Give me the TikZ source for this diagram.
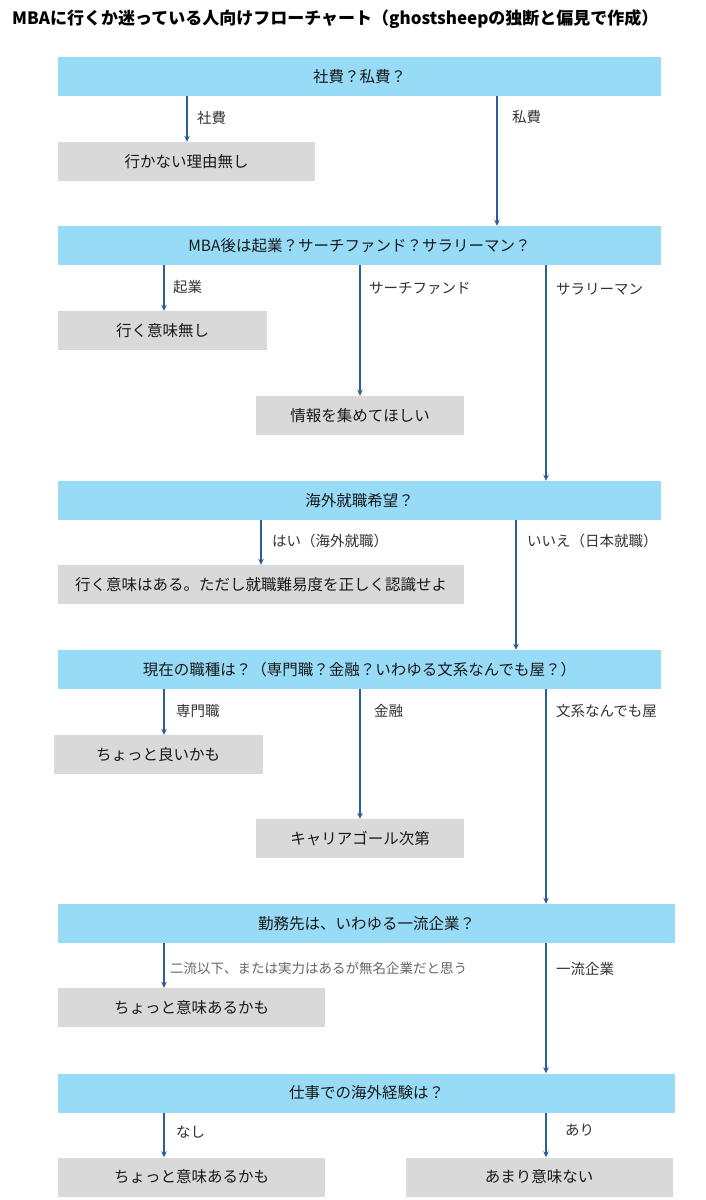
\documentclass[tikz,border=0pt]{standalone}
\usepackage{fontspec}
\setmainfont{Noto Sans CJK JP}
\usetikzlibrary{arrows.meta,positioning}
\definecolor{qblue}{HTML}{97DBF6}
\definecolor{rgray}{HTML}{D9D9D9}
\definecolor{flowblue}{HTML}{2E5C99}

\begin{document}
\begin{tikzpicture}[x=1pt, y=-1pt,
    qbox/.style={fill=qblue, minimum width=603pt, minimum height=39pt, inner sep=0pt, font=\fontsize{15.5}{18}\selectfont, text=black!90},
    rbox/.style={fill=rgray, minimum height=39pt, inner sep=0pt, font=\fontsize{15.5}{18}\selectfont, text=black!90},
    arrow/.style={-{Stealth[length=6pt,width=5.5pt]}, line width=1.3pt, draw=flowblue},
    lbl/.style={anchor=west, inner sep=0pt, font=\fontsize{14.5}{17}\selectfont, text=black!80}
]
    \fill[white] (0,0) rectangle (706,1200);
    \useasboundingbox (0,0) rectangle (706,1200);

    % Title
    \node[anchor=west, inner sep=0pt, font=\fontsize{17}{20}\selectfont\bfseries] (title) at (12,19) {MBAに行くか迷っている人向けフローチャート（ghostsheepの独断と偏見で作成）};

    % Branch lines
    \coordinate (c1) at (187,0);
    \coordinate (c2) at (497,0);
    \coordinate (c3) at (164,0);
    \coordinate (c4) at (360,0);
    \coordinate (c5) at (546,0);
    \coordinate (c6) at (261,0);
    \coordinate (c7) at (516,0);

    % Question 1
    \node[qbox] (q1) at (359.5,76.5) {社費？私費？};
    \node[rbox, minimum width=257pt] (a1) at (186.5,161.5) {行かない理由無し};
    \draw[arrow] (q1.south -| c1) -- (a1.north -| c1);
    \node[lbl] (l1) at (197,118) {社費};
    \node[lbl] (l2) at (512,117) {私費};

    % Question 2
    \node[qbox] (q2) at (359.5,245.5) {MBA後は起業？サーチファンド？サラリーマン？};
    \draw[arrow] (q1.south -| c2) -- (q2.north -| c2);
    \node[rbox, minimum width=209pt] (a2) at (162.5,330.5) {行く意味無し};
    \node[rbox, minimum width=208pt] (a3) at (360,415.5) {情報を集めてほしい};
    \draw[arrow] (q2.south -| c3) -- (a2.north -| c3);
    \draw[arrow] (q2.south -| c4) -- (a3.north -| c4);
    \node[lbl] (l3) at (173,287) {起業};
    \node[lbl] (l4) at (369,288) {サーチファンド};
    \node[lbl] (l5) at (556,289) {サラリーマン};

    % Question 3
    \node[qbox] (q3) at (359.5,500.5) {海外就職希望？};
    \draw[arrow] (q2.south -| c5) -- (q3.north -| c5);
    \node[rbox, minimum width=406pt] (a4) at (261,584.5) {行く意味はある。ただし就職難易度を正しく認識せよ};
    \draw[arrow] (q3.south -| c6) -- (a4.north -| c6);
    \node[lbl] (l6) at (272,541) {はい（海外就職）};
    \node[lbl] (l7) at (527,541) {いいえ（日本就職）};

    % Question 4
    \node[qbox] (q4) at (359.5,669.5) {現在の職種は？（専門職？金融？いわゆる文系なんでも屋？）};
    \draw[arrow] (q3.south -| c7) -- (q4.north -| c7);
    \node[rbox, minimum width=209pt] (a5) at (158,754.5) {ちょっと良いかも};
    \node[rbox, minimum width=208pt] (a6) at (360,838.5) {キャリアゴール次第};
    \draw[arrow] (q4.south -| c3) -- (a5.north -| c3);
    \draw[arrow] (q4.south -| c4) -- (a6.north -| c4);
    \node[lbl] (l8) at (176,711) {専門職};
    \node[lbl] (l9) at (374,711) {金融};
    \node[lbl] (l10) at (556,711) {文系なんでも屋};

    % Question 5
    \node[qbox, minimum width=617pt] (q5) at (366.5,923.5) {勤務先は、いわゆる一流企業？};
    \draw[arrow] (q4.south -| c5) -- (q5.north -| c5);
    \node[rbox, minimum width=267pt] (a7) at (191.5,1007.5) {ちょっと意味あるかも};
    \draw[arrow] (q5.south -| c3) -- (a7.north -| c3);
    \node[lbl, font=\fontsize{13.5}{16}\selectfont, text=black!60] (l11) at (170,968) {二流以下、または実力はあるが無名企業だと思う};
    \node[lbl] (l12) at (556,969) {一流企業};

    % Question 6
    \node[qbox, minimum width=617pt] (q6) at (366.5,1093) {仕事での海外経験は？};
    \draw[arrow] (q5.south -| c5) -- (q6.north -| c5);
    \node[rbox, minimum width=267pt] (a8) at (191.5,1177) {ちょっと意味あるかも};
    \node[rbox, minimum width=267pt] (a9) at (539,1177) {あまり意味ない};
    \draw[arrow] (q6.south -| c3) -- (a8.north -| c3);
    \draw[arrow] (q6.south -| c5) -- (a9.north -| c5);
    \node[lbl] (l13) at (176,1132) {なし};
    \node[lbl] (l14) at (565,1130) {あり};
\end{tikzpicture}
\end{document}
